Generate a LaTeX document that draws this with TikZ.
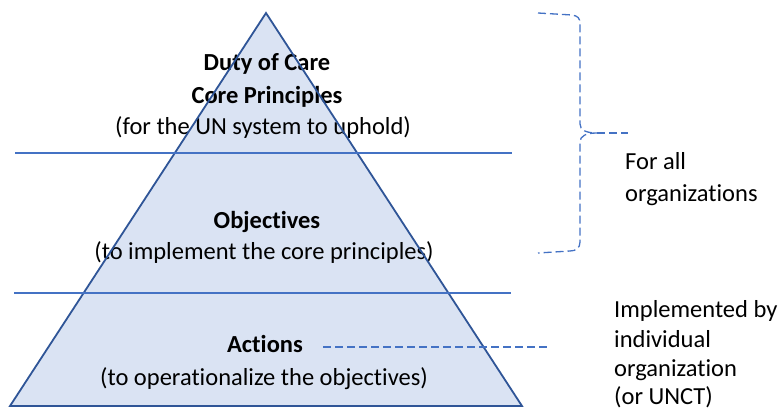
\documentclass[tikz,border=0pt]{standalone}
\usepackage{fontspec}
\setmainfont[Ligatures=NoCommon]{Carlito}
\definecolor{tierfill}{HTML}{DAE3F3}
\definecolor{edgeblue}{HTML}{2F5597}
\definecolor{lineblue}{HTML}{4472C4}
\begin{document}
\begin{tikzpicture}[x=1pt,y=-1pt,
  pyrfill/.style={fill=tierfill},
  pyredge/.style={draw=edgeblue,line width=1.8pt,line join=miter},
  tierline/.style={draw=lineblue,line width=1.3pt},
  dashblue/.style={draw=lineblue,line width=1.3pt,dash pattern=on 8pt off 4pt},
  title/.style={font=\fontsize{24.5}{28}\selectfont\bfseries,anchor=base,inner sep=0pt},
  sub/.style={font=\fontsize{24.5}{28}\selectfont,anchor=base,inner sep=0pt},
  side/.style={font=\fontsize{24.5}{28}\selectfont,anchor=base west,inner sep=0pt}]
\useasboundingbox (0,0) rectangle (782,410);
% pyramid body
\coordinate (apex) at (266,13);
\coordinate (bl) at (10,406);
\coordinate (br) at (522,406);
\fill[pyrfill] (apex) -- (br) -- (bl) -- cycle;
% tier labels
\node[title] (duty) at (267,70) {Duty of Care};
\node[title] (core) at (267,103) {Core Principles};
\node[sub] (uphold) at (263,134) {(for the UN system to uphold)};
\node[title] (obj) at (267,228) {Objectives};
\node[sub] (impl) at (264,259) {(to implement the core principles)};
\node[title] (act) at (265,352) {Actions};
\node[sub] (oper) at (264,385) {(to operationalize the objectives)};
% outline
\draw[pyredge] (apex) -- (br) -- (bl) -- cycle;
% tier dividers
\coordinate (l1a) at (15,153); \coordinate (l1b) at (512,153);
\coordinate (l2a) at (14,293); \coordinate (l2b) at (511,293);
\draw[tierline] (l1a) -- (l1b);
\draw[tierline] (l2a) -- (l2b);
% brace over the upper tiers
\draw[dashblue] (538,13) -- (572,15) .. controls (578,16) and (580,18) .. (580,24)
  -- (580,124) .. controls (580,130) and (586,133) .. (597,133)
  .. controls (586,133) and (580,136) .. (580,142)
  -- (580,242) .. controls (580,248) and (576,251) .. (570,251) -- (538,253);
\coordinate (tip) at (597,133);
\coordinate (tipend) at (628,133);
\draw[dashblue] (tip) -- (tipend);
% leader from Actions
\coordinate (leadA) at (323,347);
\coordinate (leadB) at (548,347);
\draw[dashblue] (leadA) -- (leadB);
% side notes
\node[side] (all1) at (625,169) {For all};
\node[side] (all2) at (625,201) {organizations};
\node[side] (ind1) at (614,317) {Implemented by};
\node[side] (ind2) at (614,347) {individual};
\node[side] (ind3) at (614,376) {organization};
\node[side] (ind4) at (614,404) {(or UNCT)};
\end{tikzpicture}
\end{document}
